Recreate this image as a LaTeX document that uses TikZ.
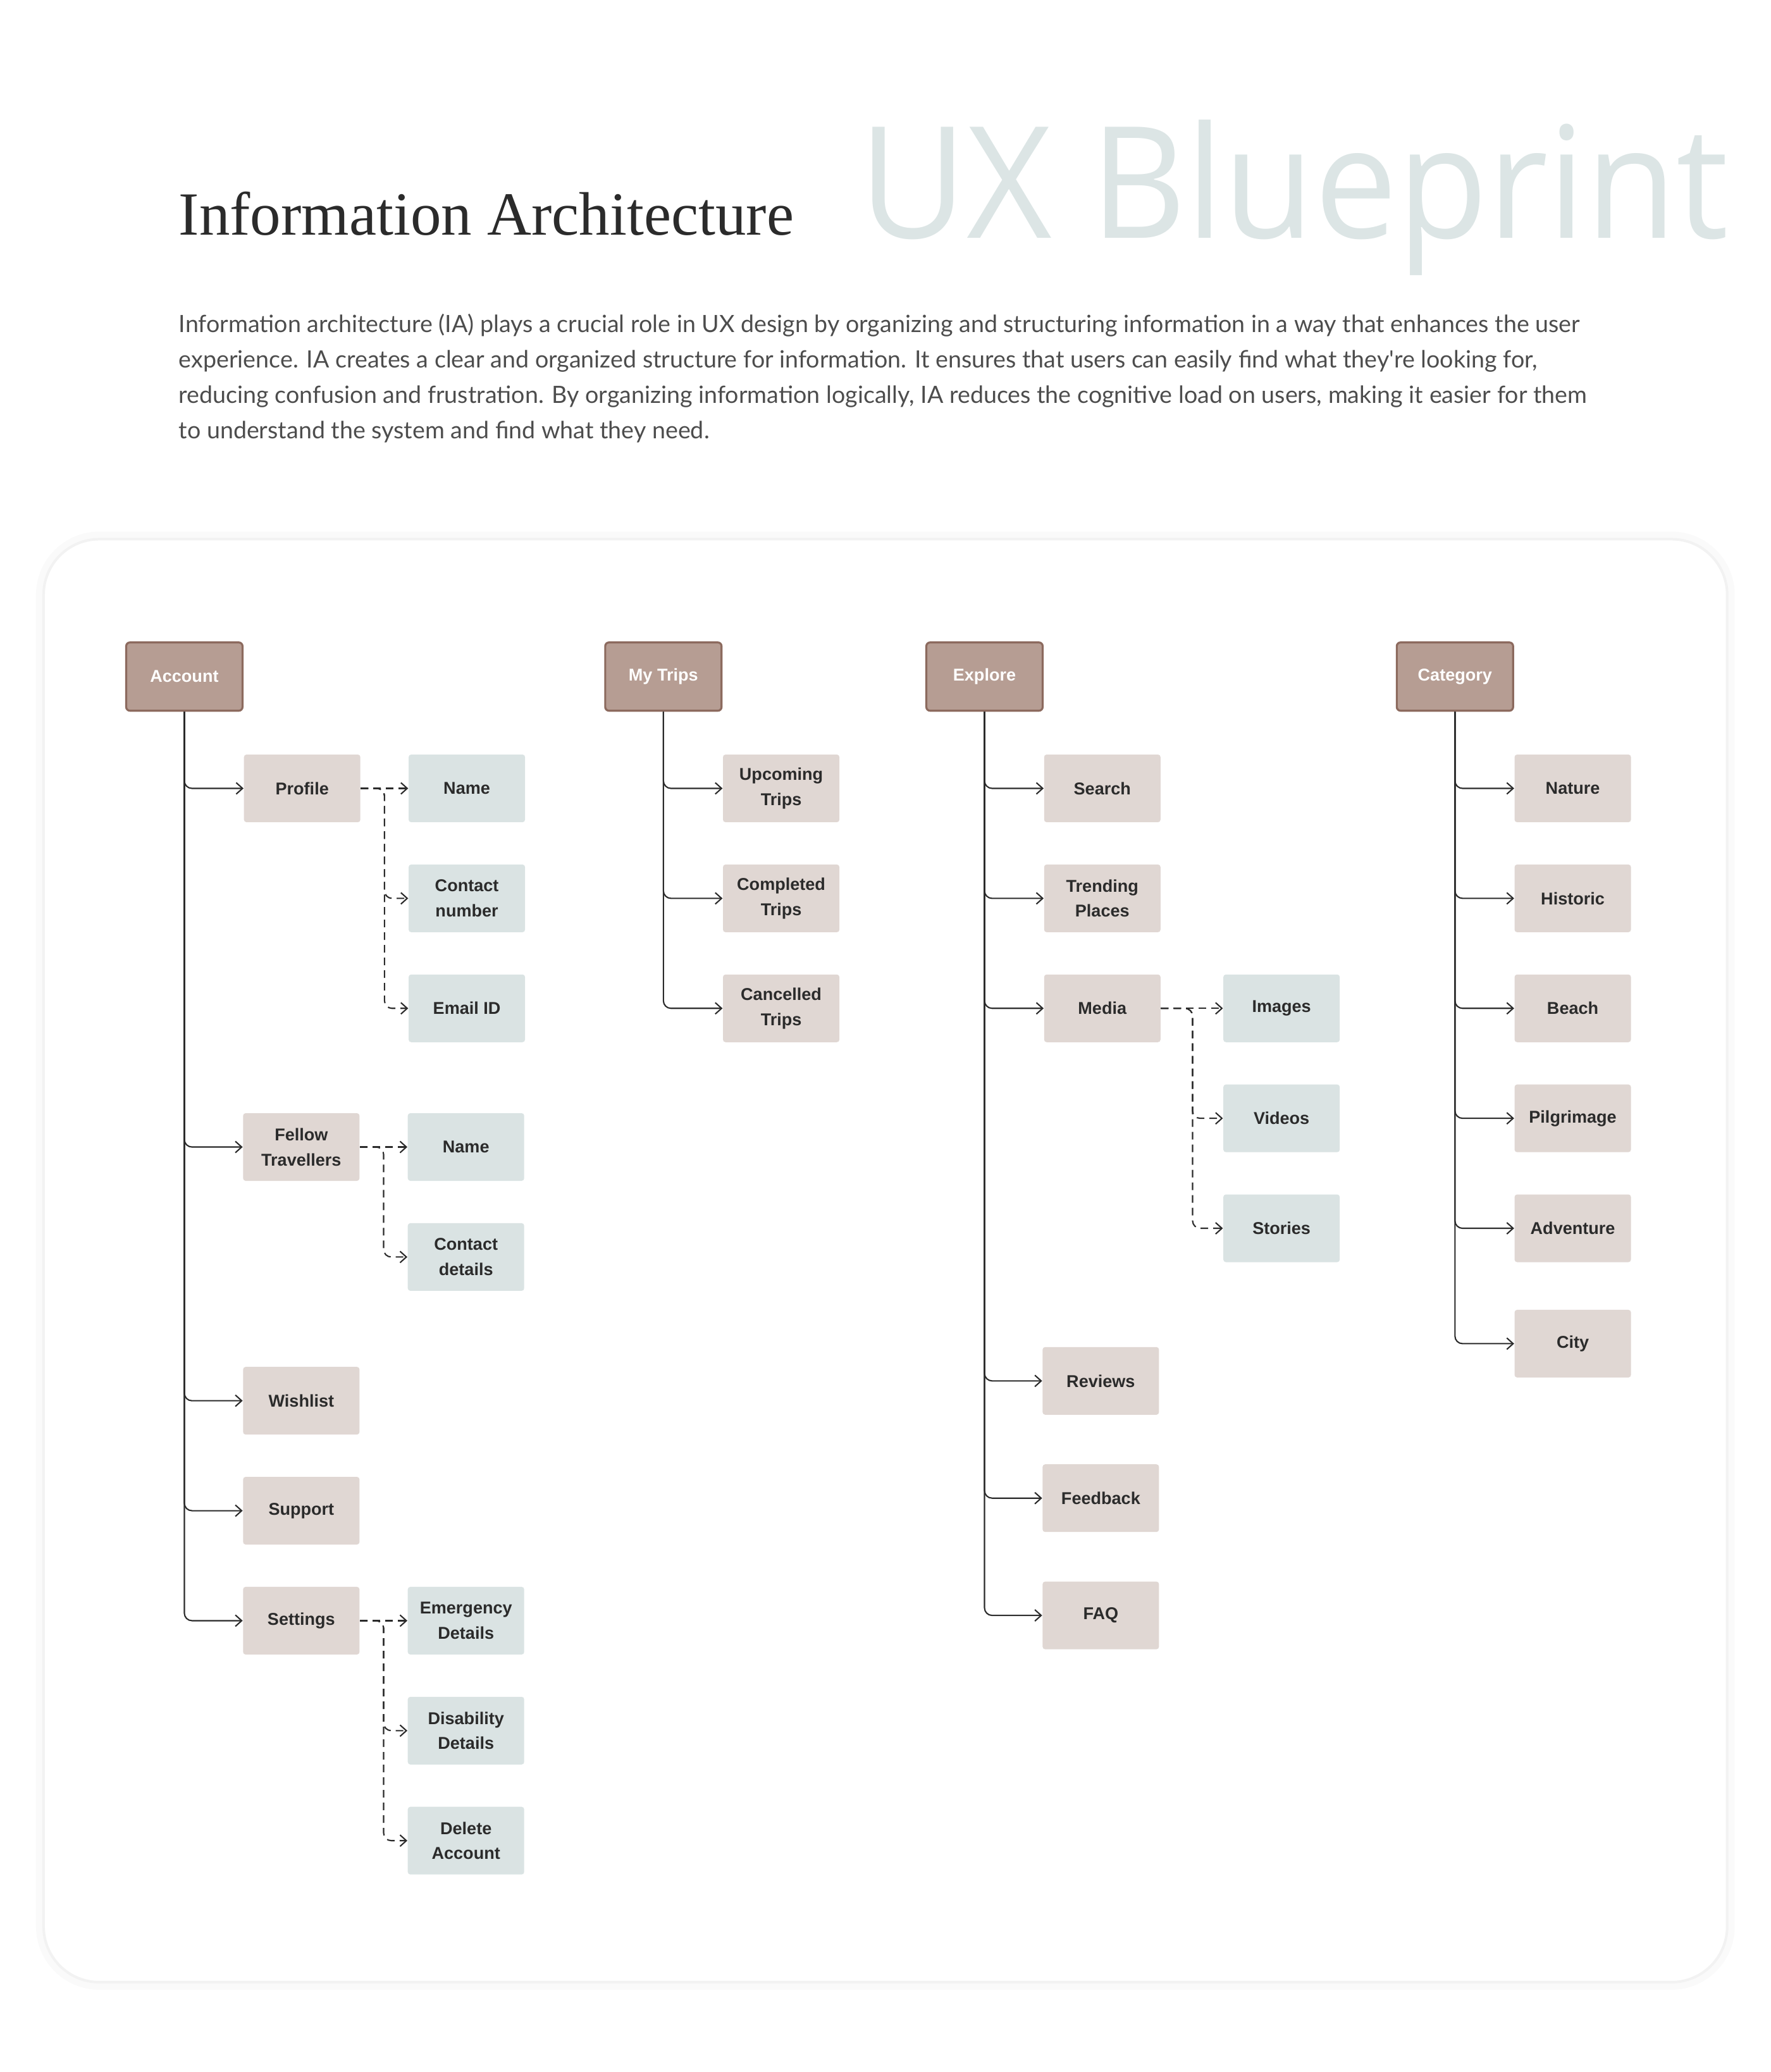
\documentclass[tikz,border=0pt]{standalone}
\usepackage{fontspec}
\setmainfont{Liberation Sans}
\newfontfamily\titlefont{Liberation Serif}
\newfontfamily\ghostfont{Open Sans}
\newfontfamily\bodyfont{Lato}
\usetikzlibrary{arrows.meta,positioning,calc}
\definecolor{headfill}{HTML}{B69D93}
\definecolor{headline}{HTML}{8C6A5E}
\definecolor{subfill}{HTML}{E0D7D3}
\definecolor{leaffill}{HTML}{DAE3E3}
\definecolor{ink}{HTML}{2B2B2B}
\definecolor{bodygray}{HTML}{4D4D4D}
\definecolor{ghost}{HTML}{DCE5E5}
\tikzset{
    line/.style     = {-{Straight Barb[length=1mm,width=1.8mm]}, line width=0.6pt,
            draw=ink, rounded corners=1.2mm},
    dline/.style    = {line, dash pattern=on 1.2mm off 0.8mm},
    headbox/.style  = {draw=headline, line width=0.9pt, fill=headfill, text=white,
            font=\bfseries\fontsize{7.7}{11.3}\selectfont,
            minimum width=18.4mm, minimum height=10.8mm, inner sep=0pt,
            align=center, rounded corners=0.6mm},
    subbox/.style   = {fill=subfill, text=ink,
            font=\bfseries\fontsize{7.7}{11.3}\selectfont,
            minimum width=18.4mm, minimum height=10.7mm, inner sep=0pt,
            align=center, rounded corners=0.4mm},
    leafbox/.style  = {subbox, fill=leaffill},
}

\begin{document}
\begin{tikzpicture}[x=0.20896mm, y=-0.20896mm, node distance=6.55mm and 7.5mm]
    \useasboundingbox (0,0) rectangle (1340,1568);
    % Panel
    \draw[black!2, line width=2.4mm, rounded corners=8.8mm] (33,408) rectangle (1307,1500);
    \draw[black!5, line width=0.4mm, fill=white, rounded corners=8.8mm] (33,408) rectangle (1307,1500);
    % Header texts
    \node[anchor=base west, inner sep=0pt, text=ghost, font=\ghostfont\fontsize{70}{70}\selectfont]
        (ghost) at (650,180) {\scalebox{0.95}[1]{UX Blueprint}};
    \node[anchor=base west, inner sep=0pt, text=ink, font=\titlefont\fontsize{27.6}{32}\selectfont]
        (title) at (135,178) {Information Architecture};
    \node[anchor=north west, inner sep=0pt, align=left, text=bodygray,
          font=\bodyfont\fontsize{10.7}{16}\selectfont] (intro) at (135,237)
        {Information architecture (IA) plays a crucial role in UX design by organizing and structuring information in a way that enhances the user\\
         experience. IA creates a clear and organized structure for information. It ensures that users can easily find what they're looking for,\\
         reducing confusion and frustration. By organizing information logically, IA reduces the cognitive load on users, making it easier for them\\
         to understand the system and find what they need.};

    % Account
    \node[headbox] (acc) at (139.5,512) {Account};
    \node[subbox, below right=6.7mm and 0mm of acc] (prof) {Profile};
    \node[leafbox, right=of prof] (pname) {Name};
    \node[leafbox, below=of pname] (pcont) {Contact\\number};
    \node[leafbox, below=of pcont] (pmail) {Email ID};
    \node[subbox] (fell) at (228,868) {Fellow\\Travellers};
    \node[leafbox, right=of fell] (fname) {Name};
    \node[leafbox, below=of fname] (fcont) {Contact\\details};
    \node[subbox] (wish) at (228,1060) {Wishlist};
    \node[subbox, below=of wish] (supp) {Support};
    \node[subbox, below=of supp] (sett) {Settings};
    \node[leafbox, right=of sett] (emerg) {Emergency\\Details};
    \node[leafbox, below=of emerg] (disab) {Disability\\Details};
    \node[leafbox, below=of disab] (delacc) {Delete\\Account};

    % My Trips
    \node[headbox] (trips) at (502,512) {My Trips};
    \node[subbox, below right=6.7mm and 0mm of trips] (upc) {Upcoming\\Trips};
    \node[subbox, below=of upc] (comp) {Completed\\Trips};
    \node[subbox, below=of comp] (canc) {Cancelled\\Trips};

    % Explore
    \node[headbox] (expl) at (745,512) {Explore};
    \node[subbox, below right=6.7mm and 0mm of expl] (search) {Search};
    \node[subbox, below=of search] (trend) {Trending\\Places};
    \node[subbox, below=of trend] (media) {Media};
    \node[leafbox, right=9.8mm of media] (img) {Images};
    \node[leafbox, below=of img] (vid) {Videos};
    \node[leafbox, below=of vid] (story) {Stories};
    \node[subbox] (rev) at (833,1045) {Reviews};
    \node[subbox, below=7.7mm of rev] (feed) {Feedback};
    \node[subbox, below=7.7mm of feed] (faq) {FAQ};

    % Category
    \node[headbox] (cat) at (1101,512) {Category};
    \node[subbox, below right=6.7mm and 0mm of cat] (nat) {Nature};
    \node[subbox, below=of nat] (hist) {Historic};
    \node[subbox, below=of hist] (beach) {Beach};
    \node[subbox, below=of beach] (pilg) {Pilgrimage};
    \node[subbox, below=of pilg] (adv) {Adventure};
    \node[subbox, below=7.4mm of adv] (city) {City};

    % Arrows
    \foreach \c in {prof,fell,wish,supp,sett} \draw[line] (acc) |- (\c);
    \foreach \c in {upc,comp,canc} \draw[line] (trips) |- (\c);
    \foreach \c in {search,trend,media,rev,feed,faq} \draw[line] (expl) |- (\c);
    \foreach \c in {nat,hist,beach,pilg,adv,city} \draw[line] (cat) |- (\c);

    \draw[dline] (prof) -- (pname);
    \draw[dline] (prof.east) -- ++(3.75mm,0) |- (pcont);
    \draw[dline] (prof.east) -- ++(3.75mm,0) |- (pmail);
    \draw[dline] (fell) -- (fname);
    \draw[dline] (fell.east) -- ++(3.75mm,0) |- (fcont);
    \draw[dline] (sett) -- (emerg);
    \draw[dline] (sett.east) -- ++(3.75mm,0) |- (disab);
    \draw[dline] (sett.east) -- ++(3.75mm,0) |- (delacc);
    \draw[dline] (media) -- (img);
    \draw[dline] (media.east) -- ++(5mm,0) |- (vid);
    \draw[dline] (media.east) -- ++(5mm,0) |- (story);
\end{tikzpicture}
\end{document}
